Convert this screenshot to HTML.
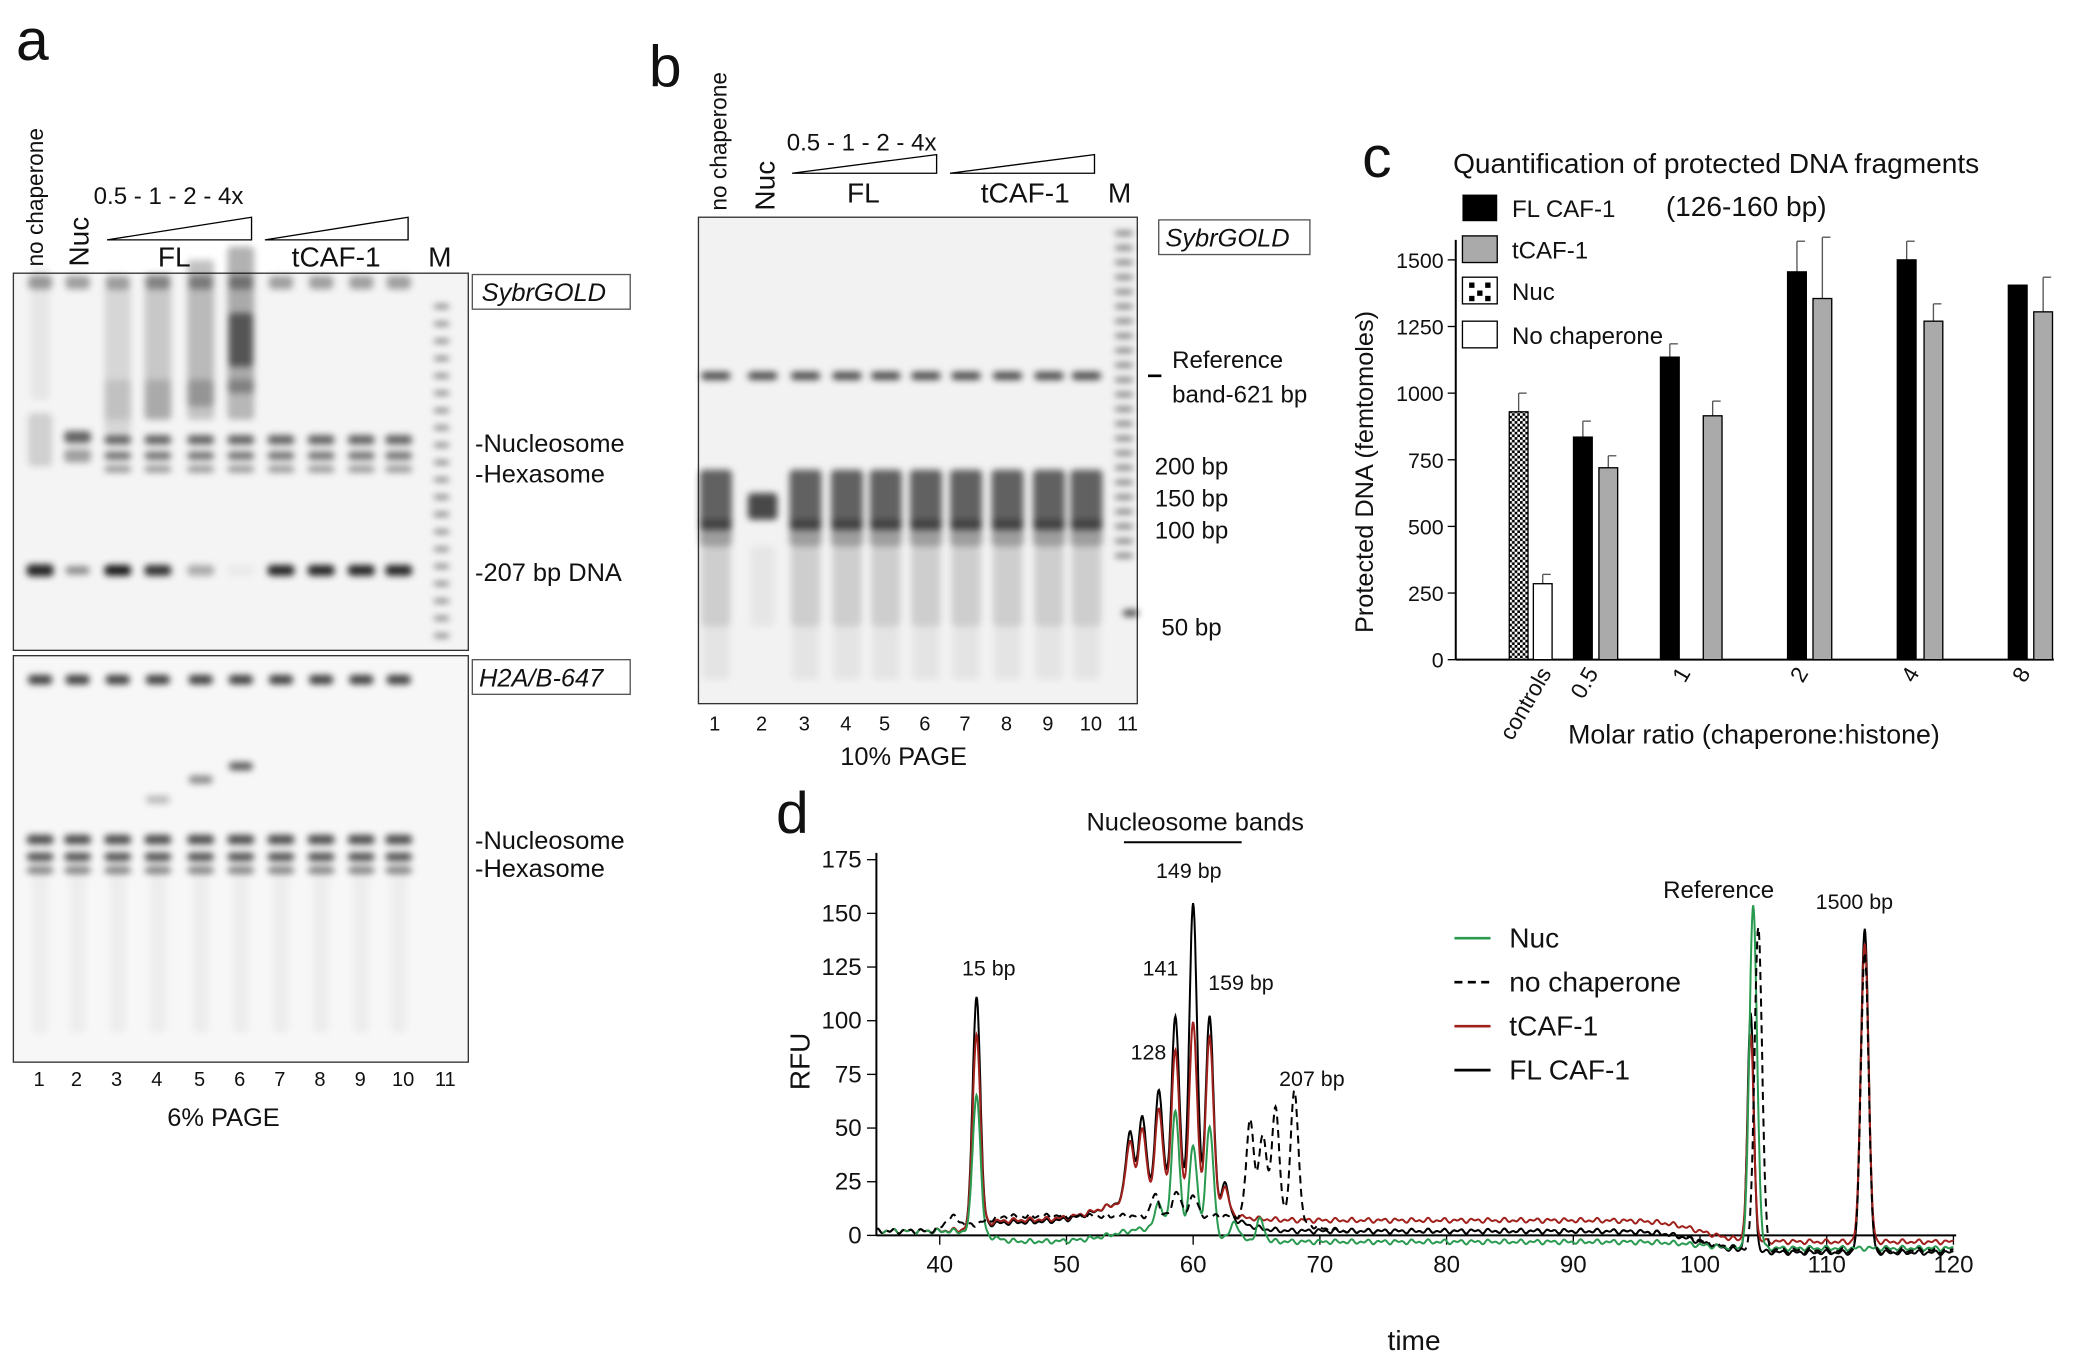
<!DOCTYPE html>
<html><head><meta charset="utf-8"><style>
html,body{margin:0;padding:0;background:#fff}
svg{display:block}
text{font-family:"Liberation Sans",sans-serif;fill:#111}
</style></head><body>
<svg id="s" width="2098" height="1366" viewBox="0 0 1568 1025" preserveAspectRatio="none" xmlns="http://www.w3.org/2000/svg">
<defs>
<filter id="b1" x="-50%" y="-50%" width="200%" height="200%"><feGaussianBlur stdDeviation="2.5"/></filter>
<pattern id="chk" width="4" height="4" patternUnits="userSpaceOnUse"><rect width="4" height="4" fill="#fff"/><rect width="2" height="2" fill="#000"/><rect x="2" y="2" width="2" height="2" fill="#000"/></pattern>
</defs>
<text x="12" y="45" font-size="44">a</text>
<text x="485" y="65" font-size="44">b</text>
<text x="1018" y="133" font-size="44">c</text>
<text x="580" y="625" font-size="44">d</text>

<text transform="translate(32,200) rotate(-90)" font-size="17">no chaperone</text>
<text transform="translate(66,200) rotate(-90)" font-size="21">Nuc</text>
<text x="70" y="153" font-size="18">0.5 - 1 - 2 - 4x</text>
<polygon points="80,180 188,163 188,180" fill="none" stroke="#000" stroke-width="1"/>
<polygon points="198,180 305,163 305,180" fill="none" stroke="#000" stroke-width="1"/>
<text x="118" y="200" font-size="21">FL</text>
<text x="218" y="200" font-size="21">tCAF-1</text>
<text x="320" y="200" font-size="21">M</text>
<rect x="10" y="205" width="340" height="283" fill="#f4f4f4" stroke="#333"/>
<rect x="10" y="492" width="340" height="305" fill="#f7f7f7" stroke="#333"/>
<rect x="353" y="206" width="118" height="26" fill="#fff" stroke="#555"/>
<text x="360" y="226" font-size="19" font-style="italic">SybrGOLD</text>
<rect x="353" y="495" width="118" height="26" fill="#fff" stroke="#555"/>
<text x="358" y="515" font-size="19" font-style="italic">H2A/B-647</text>
<g id="gelA" filter="url(#b1)"></g>
<g font-size="19">
<text x="355" y="339">-Nucleosome</text><text x="355" y="362">-Hexasome</text>
<text x="355" y="436">-207 bp DNA</text>
<text x="355" y="637">-Nucleosome</text><text x="355" y="658">-Hexasome</text>
</g>
<g font-size="15" id="laneA"></g>
<text x="125" y="845" font-size="19">6% PAGE</text>

<text transform="translate(543,158) rotate(-90)" font-size="17">no chaperone</text>
<text transform="translate(579,158) rotate(-90)" font-size="21">Nuc</text>
<text x="588" y="113" font-size="18">0.5 - 1 - 2 - 4x</text>
<polygon points="592,130 700,116 700,130" fill="none" stroke="#000"/>
<polygon points="710,130 818,116 818,130" fill="none" stroke="#000"/>
<text x="633" y="152" font-size="21">FL</text>
<text x="733" y="152" font-size="21">tCAF-1</text>
<text x="828" y="152" font-size="21">M</text>
<rect x="522" y="163" width="328" height="365" fill="#f2f2f2" stroke="#333"/>
<rect x="866" y="165" width="113" height="26" fill="#fff" stroke="#555"/>
<text x="871" y="185" font-size="19" font-style="italic">SybrGOLD</text>
<g id="gelB" filter="url(#b1)"></g>
<g font-size="18">
<line x1="858" y1="282" x2="868" y2="282" stroke="#000" stroke-width="2"/>
<text x="876" y="276">Reference</text><text x="876" y="302">band-621 bp</text>
<text x="863" y="356">200 bp</text><text x="863" y="380">150 bp</text><text x="863" y="404">100 bp</text>
<text x="868" y="477">50 bp</text>
</g>
<g font-size="15" id="laneB"></g>
<text x="628" y="574" font-size="19">10% PAGE</text>

<text x="1086" y="130" font-size="21">Quantification of protected DNA fragments</text>
<text x="1245" y="162" font-size="21">(126-160 bp)</text>
<g font-size="18">
<rect x="1093" y="146" width="26" height="20" fill="#000"/><text x="1130" y="163">FL CAF-1</text>
<rect x="1093" y="177" width="26" height="20" fill="#aaa" stroke="#000"/><text x="1130" y="194">tCAF-1</text>
<rect x="1093" y="208" width="26" height="20" fill="#fff" stroke="#000"/><rect x="1098" y="212" width="4" height="4"/><rect x="1110" y="212" width="4" height="4"/><rect x="1104" y="218" width="4" height="4"/><rect x="1098" y="222" width="4" height="4"/><rect x="1110" y="222" width="4" height="4"/><text x="1130" y="225">Nuc</text>
<rect x="1093" y="241" width="26" height="20" fill="#fff" stroke="#000"/><text x="1130" y="258">No chaperone</text>
</g>
<g id="chartC"></g>
<text transform="translate(1026,475) rotate(-90)" font-size="19">Protected DNA (femtomoles)</text>
<text x="1172" y="558" font-size="20">Molar ratio (chaperone:histone)</text>

<text x="812" y="623" font-size="19">Nucleosome bands</text>
<line x1="840" y1="632" x2="928" y2="632" stroke="#000" stroke-width="1.5"/>
<g id="chartD"></g>
<g font-size="16">
<text x="719" y="732">15 bp</text><text x="864" y="659">149 bp</text>
<text x="854" y="732">141</text><text x="903" y="743">159 bp</text>
<text x="845" y="795">128</text><text x="956" y="815">207 bp</text>
<text x="1243" y="674" font-size="18">Reference</text><text x="1357" y="682">1500 bp</text>
</g>
<g font-size="21">
<line x1="1087" y1="704" x2="1114" y2="704" stroke="#2a9a50" stroke-width="2"/><text x="1128" y="711">Nuc</text>
<line x1="1087" y1="737" x2="1114" y2="737" stroke="#000" stroke-width="2" stroke-dasharray="6,4"/><text x="1128" y="744">no chaperone</text>
<line x1="1087" y1="770" x2="1114" y2="770" stroke="#a0201c" stroke-width="2"/><text x="1128" y="777">tCAF-1</text>
<line x1="1087" y1="803" x2="1114" y2="803" stroke="#000" stroke-width="2"/><text x="1128" y="810">FL CAF-1</text>
</g>
<text transform="translate(605,818) rotate(-90)" font-size="21">RFU</text>
<text x="1037" y="1013" font-size="21">time</text>
</svg>
<script>
const NS="http://www.w3.org/2000/svg";
function el(p,t,a,txt){const e=document.createElementNS(NS,t);for(const k in a)e.setAttribute(k,a[k]);if(txt!==undefined)e.textContent=txt;document.getElementById(p).appendChild(e);return e;}
const la=[30,58,88,118,150,180,210,240,270,298,330];
la.forEach((x,i)=>{el('laneA','text',{x:x-5,y:815},String(i+1));});
function band(g,x,y,w,h,op){el(g,'rect',{x:x-w/2,y:y-h/2,width:w,height:h,rx:3,fill:'#000','fill-opacity':op});}
la.slice(0,10).forEach((x,i)=>{
 band('gelA',x,212,18,10,0.35);
 if(i==0){band('gelA',x,330,18,40,0.15);band('gelA',x,428,20,9,0.85);band('gelA',x,250,14,100,0.06);}
 else if(i==1){band('gelA',x,328,20,9,0.6);band('gelA',x,342,20,10,0.35);band('gelA',x,428,18,6,0.45);}
 else{
  let fl=i>=2&&i<=5; let k=i-2;
  band('gelA',x,330,20,7,0.6);band('gelA',x,342,20,6,0.55);band('gelA',x,352,20,5,0.4);
  if(fl){band('gelA',x,270-k*10,20,110,0.12+k*0.06);band('gelA',x,300,20,30,0.1+k*0.05);if(k==3)band('gelA',x,255,18,40,0.5);}
  let d=fl?[0.9,0.8,0.3,0.04][k]:0.85; band('gelA',x,428,20,8,d);
 }
 band('gelA',x,510,18,7,0.75);
 band('gelA',x,630,20,7,0.7);band('gelA',x,643,20,6,0.7);band('gelA',x,653,20,5,0.5);
 band('gelA',x,710,12,130,0.04);
 if(i>=3&&i<=5)band('gelA',x,[0,0,0,600,585,575][i],18,6,0.25+0.2*(i-3));
});
for(let y=230;y<480;y+=13)band('gelA',330,y,12,3,0.55);
const lb=[535,570,602,633,662,692,722,753,784,812,840];
lb.forEach((x,i)=>{el('laneB','text',{x:x-5,y:548},String(i+1));});
lb.slice(0,10).forEach((x,i)=>{
 band('gelB',x,282,22,6,0.7);
 if(i==1){band('gelB',x,380,22,20,0.7);band('gelB',x,440,18,60,0.05);}
 else{band('gelB',x,375,24,45,0.6);band('gelB',x,400,24,20,0.35);band('gelB',x,440,22,60,0.15);band('gelB',x,490,20,40,0.06);}
});
for(let y=175;y<420;y+=11)band('gelB',840,y,14,3,0.6);
band('gelB',845,460,12,5,0.7);
const y0=495,sc=0.2,ax=1088;
el('chartC','line',{x1:ax,y1:y0,x2:1535,y2:y0,stroke:'#000','stroke-width':1.5});
el('chartC','line',{x1:ax,y1:y0,x2:ax,y2:180,stroke:'#000','stroke-width':1.5});
[0,250,500,750,1000,1250,1500].forEach(v=>{let y=y0-v*sc;el('chartC','line',{x1:ax-6,y1:y,x2:ax,y2:y,stroke:'#000'});el('chartC','text',{x:ax-9,y:y+6,'font-size':16,'text-anchor':'end'},String(v));});
const bars=[[1135,930,70,'url(#chk)'],[1153,285,35,'#fff'],[1183,835,60,'#000'],[1202,720,45,'#aaa'],[1248,1135,50,'#000'],[1280,915,55,'#aaa'],[1343,1455,115,'#000'],[1362,1355,230,'#aaa'],[1425,1500,70,'#000'],[1445,1270,65,'#aaa'],[1508,1405,0,'#000'],[1527,1305,130,'#aaa']];
bars.forEach(b=>{let top=y0-b[1]*sc;el('chartC','line',{x1:b[0],y1:top,x2:b[0],y2:top-b[2]*sc,stroke:'#555'});el('chartC','line',{x1:b[0],y1:top-b[2]*sc,x2:b[0]+6,y2:top-b[2]*sc,stroke:'#555'});el('chartC','rect',{x:b[0]-7,y:top,width:14,height:b[1]*sc,fill:b[3],stroke:'#000'});});
[[1160,'controls'],[1195,'0.5'],[1264,'1'],[1352,'2'],[1435,'4'],[1518,'8']].forEach(t=>{el('chartC','text',{transform:`translate(${t[0]},505) rotate(-60)`,'font-size':17,'text-anchor':'end'},t[1]);});
const X=t=>655+(t-35)*9.47, Y=v=>927-v*1.611;
el('chartD','line',{x1:655,y1:927,x2:1462,y2:927,stroke:'#000','stroke-width':1.5});
el('chartD','line',{x1:655,y1:927,x2:655,y2:640,stroke:'#000','stroke-width':1.5});
for(let t=40;t<=120;t+=10){el('chartD','line',{x1:X(t),y1:927,x2:X(t),y2:934,stroke:'#000'});el('chartD','text',{x:X(t),y:955,'font-size':18,'text-anchor':'middle'},String(t));}
for(let v=0;v<=175;v+=25){el('chartD','line',{x1:648,y1:Y(v),x2:655,y2:Y(v),stroke:'#000'});el('chartD','text',{x:644,y:Y(v)+6,'font-size':18,'text-anchor':'end'},String(v));}
const S=(t,a,w)=>1/(1+Math.exp(-(t-a)/(w||1)));
const W=(t,a,b,w)=>S(t,a,w)-S(t,b,w);
function trace(peaks,base,col,dash){let d='';for(let t=35;t<=120;t+=0.05){let v=base(t);peaks.forEach(p=>{v+=p[1]*Math.exp(-((t-p[0])**2)/(2*(p[2]||0.3)**2));});v+=1.2*Math.sin(t*7.3)*Math.sin(t*2.1);d+=(d?'L':'M')+X(t).toFixed(1)+','+Y(v).toFixed(1);}const a={d:d,fill:'none',stroke:col,'stroke-width':1.5};if(dash)a['stroke-dasharray']='6,4';el('chartD','path',a);}
trace([[42.9,108],[55,32],[56,38],[57.3,50],[58.6,85],[60,140],[61.3,90],[62.5,15],[104,110,0.25],[113,152,0.3]],t=>2+4*W(t,43,64,0.7)+14*W(t,53,61,1.5)-10*S(t,100,1.5),'#000',false);
trace([[42.9,90],[55,28],[56,33],[57.3,42],[58.6,70],[60,85],[61.3,80],[62.5,12],[104,95,0.25],[113,140,0.3]],t=>2+5*S(t,43,0.7)+12*W(t,53,61,1.5)-10*S(t,100,1.5),'#a0201c',false);
trace([[42.9,65],[57.3,12],[58.6,55],[60,40],[61.3,50],[63.3,8],[65.3,10],[104.2,160,0.3]],t=>2-5*S(t,44,0.7)+8*W(t,54,61,1.5)-3*S(t,100,1.5),'#2a9a50',false);
trace([[41,6,0.6],[57,10],[58.7,12],[60,10],[64.5,45],[65.5,38],[66.5,50],[68,60],[104.6,150,0.3],[113,140,0.3]],t=>2+7*W(t,43,69,0.8)-9*S(t,100,1.5),'#000',true);
</script>
</body></html>
